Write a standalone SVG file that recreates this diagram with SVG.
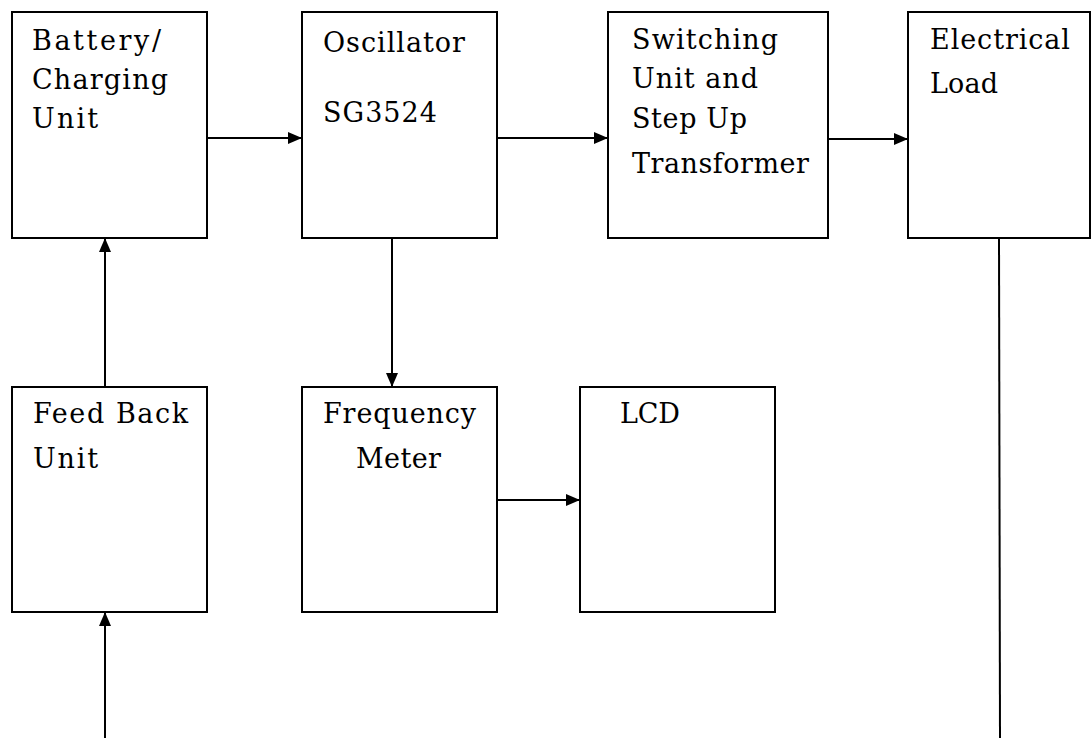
<svg xmlns="http://www.w3.org/2000/svg" width="1091" height="738" viewBox="0 0 1091 738">
<style>
.box{fill:#fff;stroke:#000;stroke-width:2}
.t{font-family:"DejaVu Serif","Liberation Serif",serif;font-size:27px;fill:#000}
.c{fill:none;stroke:#000;stroke-width:2}
</style>
<defs>
<marker id="ah" viewBox="0 0 14 12" refX="14" refY="6" markerWidth="14" markerHeight="12" markerUnits="userSpaceOnUse" orient="auto">
<path d="M0,0 L14,6 L0,12 Z" fill="#000"/>
</marker>
</defs>
<rect width="1091" height="738" fill="#fff"/>
<g id="connectors">
<line class="c" x1="207" y1="138" x2="302" y2="138" marker-end="url(#ah)"/>
<line class="c" x1="497" y1="138" x2="608" y2="138" marker-end="url(#ah)"/>
<line class="c" x1="828" y1="139" x2="908" y2="139" marker-end="url(#ah)"/>
<line class="c" x1="392" y1="238" x2="392" y2="387" marker-end="url(#ah)"/>
<line class="c" x1="497" y1="500" x2="580" y2="500" marker-end="url(#ah)"/>
<line class="c" x1="105" y1="387" x2="105" y2="238" marker-end="url(#ah)"/>
<line class="c" x1="105" y1="738" x2="105" y2="612" marker-end="url(#ah)"/>
<line class="c" x1="999" y1="238" x2="1000" y2="738"/>
</g>
<g id="battery">
<rect class="box" x="12" y="12" width="195" height="226"/>
<text class="t" x="32" y="50" textLength="129" lengthAdjust="spacing">Battery/</text>
<text class="t" x="32" y="89" textLength="136" lengthAdjust="spacing">Charging</text>
<text class="t" x="32" y="128" textLength="66" lengthAdjust="spacing">Unit</text>
</g>
<g id="oscillator">
<rect class="box" x="302" y="12" width="195" height="226"/>
<text class="t" x="323" y="52" textLength="142" lengthAdjust="spacing">Oscillator</text>
<text class="t" x="323" y="122" textLength="114" lengthAdjust="spacing">SG3524</text>
</g>
<g id="switching">
<rect class="box" x="608" y="12" width="220" height="226"/>
<text class="t" x="632" y="49" textLength="146" lengthAdjust="spacing">Switching</text>
<text class="t" x="632" y="88" textLength="126" lengthAdjust="spacing">Unit and</text>
<text class="t" x="632" y="128" textLength="115" lengthAdjust="spacing">Step Up</text>
<text class="t" x="632" y="173" textLength="177" lengthAdjust="spacing">Transformer</text>
</g>
<g id="load">
<rect class="box" x="908" y="12" width="182" height="226"/>
<text class="t" x="930" y="49" textLength="140" lengthAdjust="spacing">Electrical</text>
<text class="t" x="930" y="93" textLength="68" lengthAdjust="spacing">Load</text>
</g>
<g id="feedback">
<rect class="box" x="12" y="387" width="195" height="225"/>
<text class="t" x="33" y="423" textLength="155" lengthAdjust="spacing">Feed Back</text>
<text class="t" x="33" y="468" textLength="65" lengthAdjust="spacing">Unit</text>
</g>
<g id="frequency">
<rect class="box" x="302" y="387" width="195" height="225"/>
<text class="t" x="323" y="423" textLength="153" lengthAdjust="spacing">Frequency</text>
<text class="t" x="356" y="468" textLength="85" lengthAdjust="spacing">Meter</text>
</g>
<g id="lcd">
<rect class="box" x="580" y="387" width="195" height="225"/>
<text class="t" x="620" y="423" textLength="60" lengthAdjust="spacing">LCD</text>
</g>
</svg>
